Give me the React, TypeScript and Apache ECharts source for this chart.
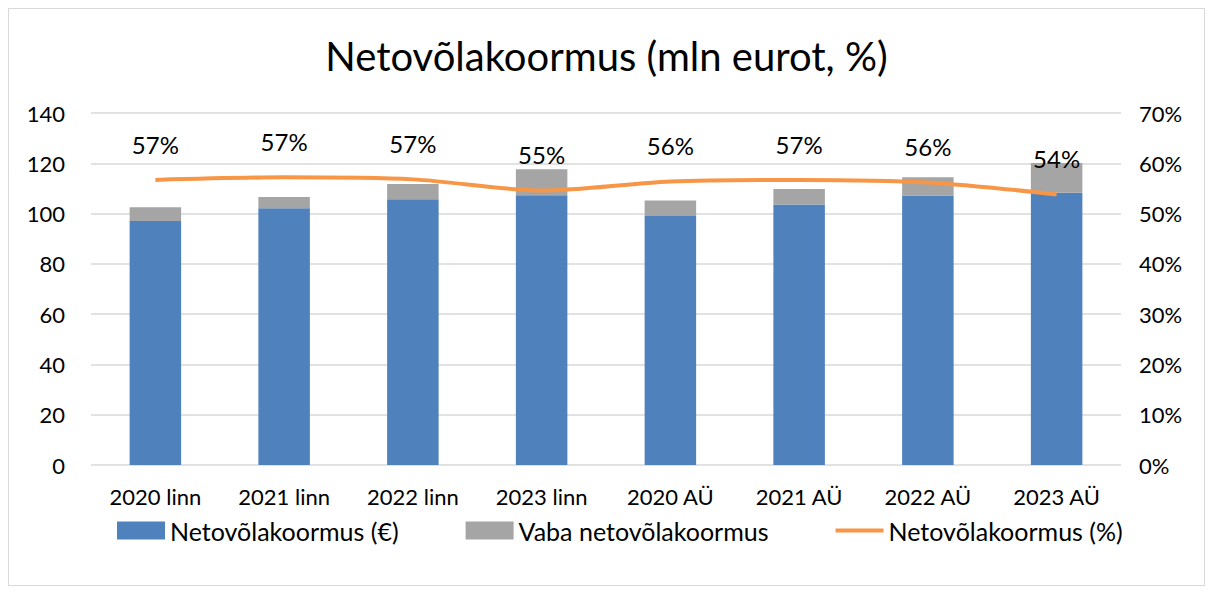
import React, { useEffect, useRef } from "react";
import * as echarts from "echarts";

const categories = ["2020 linn", "2021 linn", "2022 linn", "2023 linn", "2020 AÜ", "2021 AÜ", "2022 AÜ", "2023 AÜ"];
const netDebt = [97.0, 102.1, 105.7, 107.3, 99.0, 103.6, 107.2, 108.3];
const freeDebt = [5.5, 4.5, 6.1, 10.3, 6.2, 6.2, 7.2, 11.8];
const debtPct = [56.7, 57.2, 56.8, 54.6, 56.4, 56.7, 56.2, 53.8];
const leftTicks = [0, 20, 40, 60, 80, 100, 120, 140];
const rightTicks = [0, 10, 20, 30, 40, 50, 60, 70];

const FONT = "Lato";
const LINE_ICON = "path://M0,7 H48 V11 H0 Z M0,0 H0.01 V18 H0 Z";

export default function App() {
  const ref = useRef<HTMLDivElement>(null);
  useEffect(() => {
    if (!ref.current) return;
    const chart = echarts.init(ref.current, undefined, { renderer: "svg" });
    chart.setOption({
      animation: false,
      textStyle: { fontFamily: FONT },
      title: {
        text: "Netovõlakoormus (mln eurot, %)",
        left: "center",
        top: 22,
        textStyle: { fontFamily: FONT, fontSize: 40, fontWeight: "normal", color: "#000" },
      },
      legend: {
        bottom: 37,
        left: 103,
        itemWidth: 48,
        itemHeight: 18,
        itemGap: 67,
        textStyle: { fontFamily: FONT, fontSize: 25, color: "#000" },
        data: [
          { name: "Netovõlakoormus (€)", icon: "rect" },
          { name: "Vaba netovõlakoormus", icon: "rect" },
          { name: "Netovõlakoormus (%)", icon: LINE_ICON, itemStyle: { color: "#f79646", opacity: 1 } },
        ],
      },
      grid: { left: 82, right: 83, top: 104, bottom: 120, containLabel: false },
      xAxis: {
        type: "category",
        data: categories,
        axisLine: { show: false },
        axisTick: { show: false },
        axisLabel: { fontFamily: FONT, fontSize: 22, color: "#000", margin: 20 },
      },
      yAxis: [
        {
          type: "value",
          min: leftTicks[0],
          max: leftTicks[leftTicks.length - 1],
          interval: 20,
          axisLabel: { fontFamily: FONT, fontSize: 22, color: "#000", margin: 26 },
          splitLine: { lineStyle: { color: "#d9d9d9", width: 1.5 } },
          axisLine: { show: false },
          axisTick: { show: false },
        },
        {
          type: "value",
          min: rightTicks[0],
          max: rightTicks[rightTicks.length - 1],
          interval: 10,
          axisLabel: { fontFamily: FONT, fontSize: 22, color: "#000", margin: 18, formatter: "{value}%" },
          splitLine: { show: false },
          axisLine: { show: false },
          axisTick: { show: false },
        },
      ],
      series: [
        {
          name: "Netovõlakoormus (€)",
          type: "bar",
          stack: "s",
          data: netDebt,
          barWidth: "40%",
          itemStyle: { color: "#4f81bd" },
        },
        {
          name: "Vaba netovõlakoormus",
          type: "bar",
          stack: "s",
          data: freeDebt,
          barWidth: "40%",
          itemStyle: { color: "#a5a5a5" },
        },
        {
          name: "Netovõlakoormus (%)",
          type: "line",
          yAxisIndex: 1,
          data: debtPct,
          smooth: 0.3,
          symbol: "circle",
          symbolSize: 1,
          showSymbol: true,
          lineStyle: { color: "#f79646", width: 4 },
          itemStyle: { color: "rgba(247,150,70,0)", borderWidth: 0 },
          label: {
            show: true,
            position: "top",
            distance: 23,
            fontFamily: FONT,
            fontSize: 24,
            color: "#000",
            formatter: (p: any) => Math.round(p.value) + "%",
          },
        },
      ],
    });
    return () => chart.dispose();
  }, []);
  return (
    <div
      ref={ref}
      style={{ width: 1197, height: 578, border: "1px solid #d9d9d9", boxSizing: "border-box", background: "#fff" }}
    />
  );
}
